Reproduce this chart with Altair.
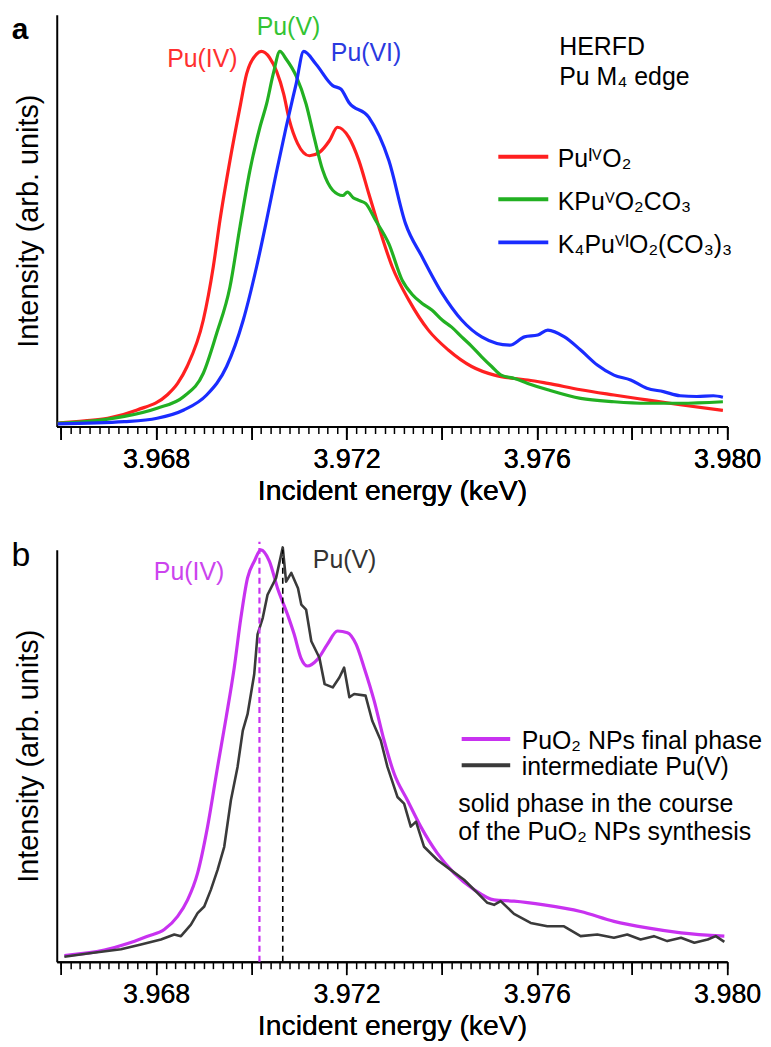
import altair as alt
import pandas as pd

# ---- panel a: HERFD spectra of the three references (normalised, peak = 1)
red_e = [3.96593, 3.9665, 3.96698, 3.9676, 3.96823, 3.96845, 3.96865, 3.96899, 3.9692, 3.96934,
         3.96955, 3.96976, 3.9699, 3.97011, 3.97021, 3.97038, 3.97068, 3.9708, 3.97097, 3.97122,
         3.97143, 3.97164, 3.97181, 3.97205, 3.97226, 3.97247, 3.97268, 3.97296, 3.97331, 3.97372,
         3.97414, 3.97463, 3.97511, 3.97553, 3.97581, 3.97623, 3.97692, 3.97762, 3.97831, 3.97901,
         3.97991]
red_i = [0.009, 0.015, 0.022, 0.044, 0.084, 0.115, 0.16, 0.284, 0.426, 0.55,
         0.709, 0.851, 0.94, 0.993, 1.0, 0.984, 0.886, 0.816, 0.755, 0.722,
         0.731, 0.762, 0.798, 0.771, 0.709, 0.62, 0.532, 0.426, 0.337, 0.257,
         0.204, 0.16, 0.137, 0.128, 0.124, 0.115, 0.098, 0.084, 0.071, 0.058,
         0.043]

green_e = [3.96593, 3.9665, 3.96733, 3.96802, 3.96858, 3.96899, 3.96927, 3.96955, 3.96976, 3.96997,
           3.97018, 3.97032, 3.97046, 3.9706, 3.97073, 3.97094, 3.97115, 3.97132, 3.9715, 3.97171,
           3.97192, 3.97202, 3.97214, 3.97226, 3.9724, 3.97261, 3.97289, 3.97317, 3.97338, 3.97359,
           3.9738, 3.97401, 3.97421, 3.97442, 3.97463, 3.97484, 3.97505, 3.97525, 3.97553, 3.97581,
           3.97623, 3.97692, 3.97762, 3.97831, 3.97901, 3.97991]
green_i = [0.009, 0.013, 0.027, 0.049, 0.08, 0.142, 0.248, 0.372, 0.532, 0.683,
           0.798, 0.86, 0.94, 1.0, 0.98, 0.935, 0.86, 0.771, 0.683, 0.63,
           0.616, 0.625, 0.61, 0.603, 0.595, 0.55, 0.487, 0.39, 0.352, 0.328,
           0.31, 0.284, 0.265, 0.239, 0.214, 0.186, 0.16, 0.137, 0.128, 0.115,
           0.098, 0.075, 0.066, 0.062, 0.062, 0.066]

blue_e = [3.96593, 3.96733, 3.96802, 3.96858, 3.96906, 3.96948, 3.96983, 3.97011, 3.97032, 3.97052,
          3.97073, 3.97094, 3.9711, 3.97136, 3.97171, 3.97188, 3.97205, 3.97247, 3.97289, 3.97324,
          3.97359, 3.97401, 3.97442, 3.97484, 3.97543, 3.97574, 3.97602, 3.97623, 3.97658, 3.97692,
          3.97727, 3.97762, 3.97797, 3.97831, 3.97866, 3.97901, 3.97936, 3.97971, 3.97991]
blue_i = [0.007, 0.013, 0.022, 0.044, 0.084, 0.16, 0.284, 0.426, 0.55, 0.674,
          0.798, 0.913, 1.0, 0.966, 0.909, 0.9, 0.864, 0.824, 0.709, 0.541,
          0.452, 0.355, 0.284, 0.239, 0.217, 0.239, 0.244, 0.257, 0.239, 0.204,
          0.164, 0.137, 0.124, 0.102, 0.093, 0.082, 0.08, 0.082, 0.078]

# ---- panel b: PuO2 NPs final phase vs intermediate Pu(V) solid phase
mag_e = [3.96607, 3.96691, 3.9674, 3.96782, 3.96817, 3.96845, 3.96866, 3.96887, 3.96908, 3.96929,
         3.96947, 3.96964, 3.96978, 3.96992, 3.97006, 3.9702, 3.97038, 3.97055, 3.97076, 3.9709,
         3.97104, 3.97118, 3.97139, 3.9716, 3.97181, 3.97202, 3.9722, 3.97237, 3.97258, 3.97279,
         3.973, 3.97328, 3.97356, 3.97391, 3.97426, 3.97468, 3.9751, 3.97552, 3.97615, 3.97692,
         3.97762, 3.97832, 3.97903, 3.97994]
mag_i = [0.015, 0.028, 0.044, 0.062, 0.078, 0.11, 0.15, 0.215, 0.328, 0.473,
         0.593, 0.714, 0.835, 0.932, 0.972, 1.0, 0.972, 0.907, 0.843, 0.795,
         0.738, 0.718, 0.734, 0.771, 0.803, 0.799, 0.771, 0.714, 0.634, 0.537,
         0.457, 0.392, 0.328, 0.263, 0.215, 0.175, 0.15, 0.147, 0.138, 0.122,
         0.098, 0.082, 0.07, 0.062]

dark_e = [3.96607, 3.96656, 3.96726, 3.96768, 3.9681, 3.96838, 3.96852, 3.96873, 3.96887, 3.96901,
          3.96915, 3.96929, 3.96943, 3.96957, 3.96971, 3.96982, 3.96992, 3.97006, 3.97013, 3.97024,
          3.97034, 3.97052, 3.97066, 3.97073, 3.97084, 3.97098, 3.97105, 3.97115, 3.97126, 3.97143,
          3.97154, 3.97171, 3.97185, 3.97195, 3.97206, 3.97216, 3.9724, 3.97254, 3.97272, 3.97286,
          3.97307, 3.97321, 3.97335, 3.97346, 3.97363, 3.97391, 3.97419, 3.97447, 3.97475, 3.97496,
          3.9751, 3.97524, 3.97552, 3.97587, 3.97622, 3.97657, 3.97692, 3.97727, 3.97762, 3.9779,
          3.97818, 3.97846, 3.97874, 3.97903, 3.97931, 3.97959, 3.97976, 3.97994]
dark_i = [0.012, 0.02, 0.03, 0.042, 0.054, 0.066, 0.062, 0.09, 0.118, 0.134,
          0.175, 0.223, 0.279, 0.392, 0.473, 0.561, 0.601, 0.698, 0.795, 0.835,
          0.891, 0.932, 1.006, 0.923, 0.944, 0.907, 0.867, 0.855, 0.778, 0.738,
          0.674, 0.666, 0.69, 0.714, 0.642, 0.65, 0.646, 0.585, 0.537, 0.473,
          0.4, 0.384, 0.328, 0.34, 0.279, 0.247, 0.223, 0.199, 0.167, 0.143,
          0.138, 0.147, 0.116, 0.094, 0.086, 0.086, 0.062, 0.066, 0.058, 0.066,
          0.054, 0.062, 0.05, 0.058, 0.046, 0.054, 0.062, 0.048]

# peak positions marked by dashed lines in panel b
peak_e = [3.97017, 3.97066]
peak_top = [1.02, 1.0]

FONT = "Liberation Sans"
RED, GREEN, BLUE = "#ff2020", "#22b022", "#1a2cff"
MAG, DARK = "#c832f0", "#3a3a3a"

major_ticks = [round(3.966 + k * 0.002, 3) for k in range(8)]
minor_ticks = [round(3.966 + k * 0.0002, 4) for k in range(71)]
x_scale = alt.Scale(domain=[3.96591, 3.980], nice=False, zero=False)

major_axis = alt.Axis(
    values=major_ticks, orient="bottom",
    title="Incident energy (keV)",
    labelExpr="abs(datum.value*250 - round(datum.value*250)) < 0.001 ? format(datum.value, '.3f') : ''",
    tickSize=13, tickWidth=1.5, tickColor="black",
    domainColor="black", domainWidth=2,
    labelOverlap=False, labelFlush=False, grid=False,
    labelFontSize=27, labelColor="black", labelPadding=7,
    titleFontSize=28.5, titleFontWeight="normal", titleColor="black", titlePadding=4,
)
minor_axis = alt.Axis(values=minor_ticks, orient="bottom", tickSize=7, tickWidth=1.5,
                      tickColor="black", labels=False, domain=False, grid=False, title=None)
y_axis = alt.Axis(
    title="Intensity (arb. units)", ticks=False, labels=False, grid=False,
    domainColor="black", domainWidth=2,
    titleFontSize=29, titleFontWeight="normal", titleColor="black", titlePadding=13,
)


def curve(e, i, color, width, y_scale, interp="monotone"):
    df = pd.DataFrame({"E": e, "I": i})
    return alt.Chart(df).mark_line(color=color, strokeWidth=width, strokeJoin="round",
                                   interpolate=interp).encode(
        x=alt.X("E:Q", scale=x_scale, axis=major_axis),
        y=alt.Y("I:Q", scale=y_scale, axis=y_axis),
    )


def texts(df, size=25, align="left"):
    return alt.Chart(df).mark_text(align=align, baseline="middle", font=FONT,
                                   fontSize=size).encode(
        x=alt.X("E:Q", axis=None), y=alt.Y("I:Q", axis=y_axis), text="t:N",
        color=alt.Color("c:N", scale=None),
    )


def keys(df):
    # short legend strokes; this layer also carries the minor tick axis
    return alt.Chart(df).mark_rule(strokeWidth=4).encode(
        x=alt.X("E:Q", axis=minor_axis), x2="E2:Q", y=alt.Y("I:Q", axis=y_axis),
        color=alt.Color("c:N", scale=None))


def tag(letter, dx, dy, size, weight):
    return alt.Chart(pd.DataFrame({"t": [letter]})).mark_text(
        font=FONT, fontSize=size, fontWeight=weight, align="center", baseline="middle").encode(
        x=alt.value(dx), y=alt.value(dy), text="t:N")


# ---------------- panel a
ya = alt.Scale(domain=[0, 1.098], nice=False)

peaks_a = pd.DataFrame({
    "t": ["Pu(IV)", "Pu(V)", "Pu(VI)"],
    "E": [3.96897, 3.97078, 3.97241],
    "I": [0.981, 1.065, 0.997],
    "c": ["#ff3030", "#33c433", "#2a3ae0"],
})
info_a = pd.DataFrame({
    "t": ["HERFD", "Pu M₄ edge", "PuᴵⱽO₂", "KPuⱽO₂CO₃", "K₄PuⱽᴵO₂(CO₃)₃"],
    "E": [3.97647, 3.97647, 3.97644, 3.97644, 3.97644],
    "I": [1.013, 0.932, 0.712, 0.598, 0.483],
    "c": ["black"] * 5,
})
key_a = pd.DataFrame({
    "E": [3.97519] * 3, "E2": [3.97624] * 3,
    "I": [0.719, 0.606, 0.491], "c": [RED, GREEN, BLUE],
})

panel_a = alt.layer(
    curve(red_e, red_i, RED, 3.2, ya),
    curve(green_e, green_i, GREEN, 3.2, ya),
    curve(blue_e, blue_i, BLUE, 3.2, ya),
    texts(peaks_a, align="center"), texts(info_a), keys(key_a),
    tag("a", -37, 15, 30, "bold"),
).resolve_axis(x="independent").properties(width=674, height=414)

# ---------------- panel b
yb = alt.Scale(domain=[0, 1.0], nice=False)

dash_df = pd.DataFrame({"E": peak_e, "base": [0.0, 0.0], "top": peak_top,
                        "c": [MAG, "black"], "w": [2.2, 1.6]})
dashes = alt.Chart(dash_df).mark_rule(strokeDash=[6, 4]).encode(
    x=alt.X("E:Q", axis=None), y=alt.Y("base:Q", axis=y_axis), y2="top:Q",
    color=alt.Color("c:N", scale=None), strokeWidth=alt.StrokeWidth("w:Q", scale=None))

peaks_b = pd.DataFrame({
    "t": ["Pu(IV)", "Pu(V)"],
    "E": [3.96869, 3.97196],
    "I": [0.945, 0.975],
    "c": ["#cc44ee", "#333333"],
})
info_b = pd.DataFrame({
    "t": ["PuO₂ NPs final phase", "intermediate Pu(V)", "solid phase in the course",
          "of the PuO₂ NPs synthesis"],
    "E": [3.97568, 3.97568, 3.97435, 3.97435],
    "I": [0.536, 0.472, 0.384, 0.316],
    "c": ["black"] * 4,
})
key_b = pd.DataFrame({
    "E": [3.97442] * 2, "E2": [3.97544] * 2, "I": [0.541, 0.477], "c": [MAG, DARK],
})

panel_b = alt.layer(
    curve(mag_e, mag_i, MAG, 3.2, yb),
    curve(dark_e, dark_i, DARK, 2.6, yb, interp="linear"),
    dashes, texts(peaks_b, align="center"), texts(info_b, size=25), keys(key_b),
    tag("b", -36, 6, 34, "normal"),
).resolve_axis(x="independent").properties(width=674, height=414)

chart = alt.vconcat(panel_a, panel_b, spacing=34).properties(
    padding={"left": 3, "top": 4, "right": 0, "bottom": 0}
).configure(font=FONT).configure_view(stroke=None)

chart.save("out.html", embed_options={"renderer": "svg", "actions": False})
